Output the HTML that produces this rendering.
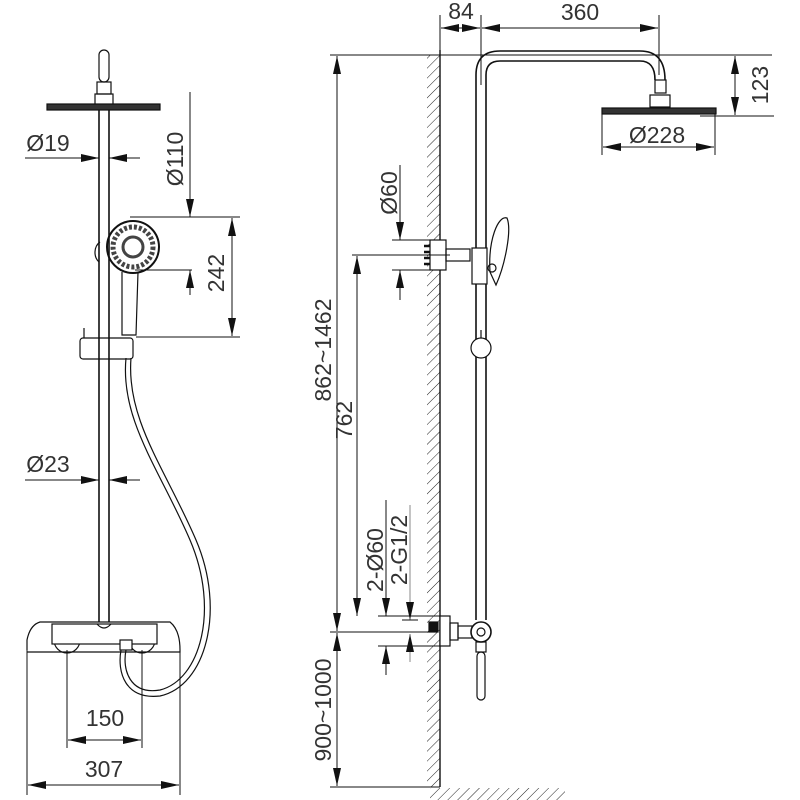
<!DOCTYPE html>
<html><head><meta charset="utf-8"><style>
html,body{margin:0;padding:0;background:#fff;width:800px;height:800px;overflow:hidden}
svg{display:block}
text{font-family:"Liberation Sans",sans-serif;font-size:23px;fill:#333;text-anchor:middle}
</style></head><body>
<svg width="800" height="800" viewBox="0 0 800 800" xmlns="http://www.w3.org/2000/svg">
<defs>
<marker id="a" viewBox="0 0 18 8" refX="18" refY="4" markerWidth="18" markerHeight="8" markerUnits="userSpaceOnUse" orient="auto"><path d="M0,0L18,4L0,8Z" fill="#111"/></marker>
<marker id="b" viewBox="0 0 18 8" refX="0" refY="4" markerWidth="18" markerHeight="8" markerUnits="userSpaceOnUse" orient="auto"><path d="M18,0L0,4L18,8Z" fill="#111"/></marker>
<pattern id="h" width="7" height="7" patternUnits="userSpaceOnUse" patternTransform="rotate(45)"><line x1="0" y1="0" x2="0" y2="7" stroke="#222" stroke-width="1"/></pattern>
</defs>
<g stroke="#111" stroke-width="1.2" fill="none">
<!-- LEFT VIEW -->
<rect x="99" y="50" width="10" height="32" rx="5"/>
<rect x="97" y="82" width="14" height="12"/>
<rect x="95" y="94" width="18" height="11"/>
<rect x="47" y="104" width="113" height="6" fill="#333"/>
<line x1="99" y1="110" x2="99" y2="622" stroke-width="1.6"/>
<line x1="109" y1="110" x2="109" y2="622" stroke-width="1.6"/>
<line x1="25" y1="158" x2="99" y2="158" stroke-width="1" marker-end="url(#a)"/>
<line x1="140" y1="158" x2="109" y2="158" stroke-width="1" marker-end="url(#a)"/>
<line x1="190" y1="92" x2="190" y2="217" stroke-width="1" marker-end="url(#a)"/>
<line x1="190" y1="295" x2="190" y2="270" stroke-width="1" marker-end="url(#a)"/>
<line x1="130" y1="217" x2="240" y2="217" stroke-width="1"/>
<line x1="135" y1="270" x2="192" y2="270" stroke-width="1"/>
<line x1="232" y1="218" x2="232" y2="336" stroke-width="1" marker-start="url(#b)" marker-end="url(#a)"/>
<line x1="136" y1="337" x2="240" y2="337" stroke-width="1"/>
<path d="M100,242 A10,12 0 0 0 99,262"/>
<circle cx="133" cy="247" r="26" stroke-width="2"/>
<circle cx="133" cy="247" r="20" stroke-width="5" stroke="#444" stroke-dasharray="3 2"/>
<circle cx="133" cy="247" r="10" stroke-width="3" stroke="#444"/>
<path d="M122,272 L122,335 L136,335 L138,272"/>
<rect x="80" y="338" width="53" height="21" rx="3"/>
<line x1="84" y1="328" x2="84" y2="338"/>
<path d="M126,358 C120,420 160,470 190,540 C220,610 200,680 160,690 C130,695 122,670 126,650"/>
<path d="M131,358 C126,420 166,470 196,540 C226,610 206,686 160,696 C125,700 117,672 121,650"/>
<line x1="25" y1="480" x2="99" y2="480" stroke-width="1" marker-end="url(#a)"/>
<line x1="140" y1="480" x2="109" y2="480" stroke-width="1" marker-end="url(#a)"/>
<path d="M27,650 L27,640 Q30,625 40,622 L170,622 Q180,630 180,650 L180,652 L27,652" />
<circle cx="67" cy="640" r="13"/>
<circle cx="142" cy="640" r="13"/>
<rect x="52" y="624" width="105" height="20" fill="#fff"/>
<path d="M97,624 Q104,632 111,624"/>
<rect x="120" y="640" width="12" height="10" fill="#fff"/>
<line x1="27" y1="650" x2="27" y2="795" stroke-width="1"/>
<line x1="180" y1="650" x2="180" y2="795" stroke-width="1"/>
<line x1="67" y1="650" x2="67" y2="748" stroke-width="1"/>
<line x1="142" y1="650" x2="142" y2="748" stroke-width="1"/>
<line x1="68" y1="740" x2="141" y2="740" stroke-width="1" marker-start="url(#b)" marker-end="url(#a)"/>
<line x1="28" y1="785" x2="179" y2="785" stroke-width="1" marker-start="url(#b)" marker-end="url(#a)"/>

<!-- RIGHT VIEW -->
<rect x="427" y="55" width="13" height="732" fill="url(#h)" stroke="none"/>
<line x1="440" y1="50" x2="440" y2="787" stroke-width="1.4"/>
<rect x="430" y="788" width="135" height="12" fill="url(#h)" stroke="none"/>
<line x1="330" y1="787" x2="440" y2="787" stroke-width="1"/>
<line x1="440" y1="15" x2="440" y2="50" stroke-width="1"/>
<line x1="481" y1="15" x2="481" y2="85" stroke-width="1"/>
<line x1="659" y1="15" x2="659" y2="75" stroke-width="1"/>
<line x1="441" y1="28" x2="480" y2="28" stroke-width="1" marker-start="url(#b)" marker-end="url(#a)"/>
<line x1="482" y1="28" x2="658" y2="28" stroke-width="1" marker-start="url(#b)" marker-end="url(#a)"/>
<path d="M476,620 L476,75 Q476,51 500,51 L640,51 Q665,51 665,80" stroke-width="1.6"/>
<path d="M486,620 L486,75 Q486,61 500,61 L640,61 Q655,61 655,80" stroke-width="1.6"/>
<rect x="655" y="80" width="11" height="13"/>
<rect x="650" y="95" width="20" height="12"/>
<rect x="602" y="108" width="114" height="6" fill="#333"/>
<line x1="330" y1="55" x2="772" y2="55" stroke-width="1"/>
<line x1="700" y1="116" x2="774" y2="116" stroke-width="1"/>
<line x1="735" y1="56" x2="735" y2="115" stroke-width="1" marker-start="url(#b)" marker-end="url(#a)"/>
<line x1="602" y1="114" x2="602" y2="155" stroke-width="1"/>
<line x1="715" y1="114" x2="715" y2="155" stroke-width="1"/>
<line x1="603" y1="147" x2="714" y2="147" stroke-width="1" marker-start="url(#b)" marker-end="url(#a)"/>
<line x1="337" y1="56" x2="337" y2="631" stroke-width="1" marker-start="url(#b)" marker-end="url(#a)"/>
<line x1="400" y1="165" x2="400" y2="240" stroke-width="1" marker-end="url(#a)"/>
<line x1="400" y1="300" x2="400" y2="270" stroke-width="1" marker-end="url(#a)"/>
<line x1="392" y1="240" x2="446" y2="240" stroke-width="1"/>
<line x1="392" y1="270" x2="446" y2="270" stroke-width="1"/>
<rect x="430" y="240" width="16" height="30" fill="#fff"/>
<g stroke-width="2.5"><line x1="424" y1="246" x2="430" y2="246"/><line x1="424" y1="252" x2="430" y2="252"/><line x1="424" y1="258" x2="430" y2="258"/><line x1="424" y1="264" x2="430" y2="264"/></g>
<rect x="446" y="249" width="24" height="12"/>
<rect x="472" y="248" width="15" height="36" fill="#fff"/>
<path d="M490,272 C488,240 498,215 507,218 C512,230 505,265 496,285 Z"/>
<circle cx="492" cy="268" r="4"/>
<circle cx="481" cy="348" r="10" fill="#fff"/>
<line x1="481" y1="330" x2="481" y2="338"/>
<line x1="352" y1="255" x2="450" y2="255" stroke-width="1"/>
<line x1="357" y1="256" x2="357" y2="616" stroke-width="1" marker-start="url(#b)" marker-end="url(#a)"/>
<line x1="330" y1="632" x2="430" y2="632" stroke-width="1"/>
<line x1="378" y1="616" x2="450" y2="616" stroke-width="1"/>
<line x1="378" y1="646" x2="450" y2="646" stroke-width="1"/>
<line x1="386" y1="500" x2="386" y2="616" stroke-width="1" marker-end="url(#a)"/>
<line x1="386" y1="675" x2="386" y2="646" stroke-width="1" marker-end="url(#a)"/>
<line x1="410" y1="505" x2="410" y2="620" stroke-width="1" stroke="#888" marker-end="url(#a)"/>
<line x1="410" y1="662" x2="410" y2="634" stroke-width="1" stroke="#888" marker-end="url(#a)"/>
<line x1="402" y1="620" x2="418" y2="620" stroke-width="1"/>
<rect x="429" y="622" width="9" height="10" fill="#111"/>
<rect x="440" y="616" width="10" height="30" fill="#fff"/>
<rect x="450" y="623" width="8" height="17"/>
<rect x="458" y="626" width="14" height="12"/>
<circle cx="481" cy="632" r="10" fill="#fff" stroke-width="1.6"/>
<circle cx="481" cy="632" r="4"/>
<rect x="476" y="642" width="10" height="10"/>
<rect x="477" y="652" width="8" height="48" rx="4"/>
<line x1="337" y1="633" x2="337" y2="786" stroke-width="1" marker-start="url(#b)" marker-end="url(#a)"/>
</g>
<text x="48" y="151">Ø19</text>
<text x="48" y="472">Ø23</text>
<text x="105" y="726">150</text>
<text x="104" y="777">307</text>
<text transform="translate(183,159) rotate(-90)">Ø110</text>
<text transform="translate(224,273) rotate(-90)">242</text>
<text x="461" y="19">84</text>
<text x="580" y="20">360</text>
<text transform="translate(768,85) rotate(-90)">123</text>
<text x="657" y="143">Ø228</text>
<text transform="translate(397,193) rotate(-90)">Ø60</text>
<text transform="translate(331,350) rotate(-90)">862~1462</text>
<text transform="translate(352,420) rotate(-90)">762</text>
<text transform="translate(383,560) rotate(-90)">2-Ø60</text>
<text transform="translate(407,550) rotate(-90)">2-G1/2</text>
<text transform="translate(331,710) rotate(-90)">900~1000</text>
</svg>
</body></html>
